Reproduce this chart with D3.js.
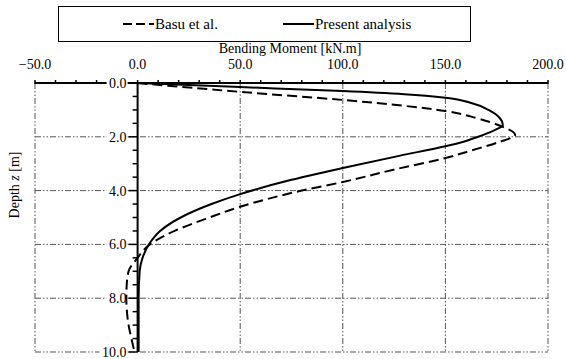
<!DOCTYPE html>
<html>
<head>
<meta charset="utf-8">
<script src="https://cdn.jsdelivr.net/npm/d3@7"></script>
<style>
  body { margin: 0; background: #fff; }
  svg text { font-family: "Times New Roman", "Liberation Serif", "DejaVu Serif", serif; }
</style>
</head>
<body>
<div id="chart"></div>
<script>
// depth [m] and bending moment [kN.m]
var presentDepth  = [0, 0.15, 0.3, 0.42, 0.55, 0.75, 1.0, 1.3, 1.56, 1.75, 2.0, 2.2, 2.35, 2.7, 3.16, 3.6, 4.13, 4.5, 5.0, 5.5, 6.0, 6.5, 7.0, 8.0, 9.0, 10.0],
    presentMoment = [0, 50, 100, 130, 150, 163, 171, 176.5, 178, 174, 166, 158, 150, 128, 100, 75, 50, 36, 21, 11, 5.5, 2.4, 1, 0.5, 0.5, 0.5];

var basuDepth  = [0, 0.33, 0.63, 0.85, 1.04, 1.3, 1.6, 1.93, 2.2, 2.5, 2.79, 3.2, 3.68, 4.0, 4.6, 5.0, 5.5, 6.0, 6.5, 7.0, 7.5, 8.0, 8.5, 9.0, 9.5, 10.0],
    basuMoment = [0, 50, 100, 130, 150, 165, 177, 184, 176, 163, 150, 126, 100, 80, 50, 35, 18, 6, 0, -4.4, -5.3, -5.5, -5.2, -4.4, -3, -1.5];

var momentTicks = [-50, 0, 50, 100, 150, 200],
    depthTicks = [0, 2, 4, 6, 8, 10];

var series = [
    {label: 'Basu et al.', depth: basuDepth, moment: basuMoment, dash: '10,5'},
    {label: 'Present analysis', depth: presentDepth, moment: presentMoment, dash: null}
];

var width = 566, height = 359,
    x = d3.scaleLinear().domain([-50, 200]).range([35, 548]),
    y = d3.scaleLinear().domain([0, 10]).range([83, 352]);

var svg = d3.select('#chart').append('svg')
    .attr('width', width)
    .attr('height', height);

var gridDash = '6,2,1.5,2,1.5,2';

// horizontal grid lines
svg.append('g').selectAll('line')
    .data(depthTicks.filter(function(d) { return d > 0; }))
    .enter().append('line')
    .attr('x1', x(-50)).attr('x2', x(200))
    .attr('y1', function(d) { return y(d); })
    .attr('y2', function(d) { return y(d); })
    .attr('stroke', '#555')
    .attr('stroke-width', 1)
    .attr('stroke-dasharray', gridDash);

// vertical grid lines
svg.append('g').selectAll('line')
    .data(momentTicks.filter(function(d) { return d !== 0; }))
    .enter().append('line')
    .attr('x1', function(d) { return x(d); })
    .attr('x2', function(d) { return x(d); })
    .attr('y1', y(0)).attr('y2', y(10))
    .attr('stroke', '#555')
    .attr('stroke-width', 1)
    .attr('stroke-dasharray', gridDash);

// top axis (moment)
var xAxis = svg.append('g').attr('transform', 'translate(0,' + y(0) + ')');
xAxis.append('line')
    .attr('x1', x(-50)).attr('x2', x(200))
    .attr('stroke', '#000').attr('stroke-width', 2);
xAxis.selectAll('.minor')
    .data(d3.range(-50, 201, 10))
    .enter().append('line')
    .attr('class', 'minor')
    .attr('x1', function(d) { return x(d); })
    .attr('x2', function(d) { return x(d); })
    .attr('y1', -3).attr('y2', 1)
    .attr('stroke', '#000').attr('stroke-width', 1.5);
xAxis.selectAll('text')
    .data(momentTicks)
    .enter().append('text')
    .attr('x', function(d) { return x(d); })
    .attr('y', -14)
    .attr('text-anchor', 'middle')
    .style('font-size', '14px')
    .text(function(d) { return d3.format('.1f')(d); });

svg.append('text')
    .attr('x', 290).attr('y', 53)
    .attr('text-anchor', 'middle')
    .style('font-size', '14px')
    .text('Bending  Moment  [kN.m]');

// depth axis at zero moment
var yAxis = svg.append('g').attr('transform', 'translate(' + x(0) + ',0)');
yAxis.append('line')
    .attr('y1', y(0)).attr('y2', y(10))
    .attr('stroke', '#000').attr('stroke-width', 2);
yAxis.selectAll('.minor')
    .data(d3.range(0, 10.01, 0.5))
    .enter().append('line')
    .attr('class', 'minor')
    .attr('y1', function(d) { return y(d); })
    .attr('y2', function(d) { return y(d); })
    .attr('x1', function(d) { return d % 2 === 0 ? -9 : -5; })
    .attr('x2', 0)
    .attr('stroke', '#000').attr('stroke-width', 1.5);
var yLabels = yAxis.selectAll('.lab')
    .data(depthTicks)
    .enter().append('g')
    .attr('class', 'lab')
    .attr('transform', function(d) { return 'translate(-10,' + y(d) + ')'; });
yLabels.append('rect')
    .attr('x', function(d) { return d >= 10 ? -28 : -21; })
    .attr('y', -7).attr('width', function(d) { return d >= 10 ? 28 : 21; }).attr('height', 14)
    .attr('fill', '#fff');
yLabels.append('text')
    .attr('x', -1)
    .attr('dy', '0.35em')
    .attr('text-anchor', 'end')
    .style('font-size', '14px')
    .text(function(d) { return d3.format('.1f')(d); });

var yTitle = svg.append('text')
    .attr('transform', 'translate(19,185) rotate(-90)')
    .attr('text-anchor', 'middle')
    .style('font-size', '14px');
yTitle.append('tspan').text('Depth ');
yTitle.append('tspan').style('font-style', 'italic').text('z');
yTitle.append('tspan').text(' [m]');

// curves
var line = d3.line()
    .x(function(d) { return x(d[1]); })
    .y(function(d) { return y(d[0]); })
    .curve(d3.curveMonotoneY);

svg.append('g').selectAll('path')
    .data(series)
    .enter().append('path')
    .attr('d', function(s) { return line(d3.zip(s.depth, s.moment)); })
    .attr('fill', 'none')
    .attr('stroke', '#000')
    .attr('stroke-width', 2)
    .attr('stroke-dasharray', function(s) { return s.dash; });

// legend
var legend = svg.append('g');
legend.append('rect')
    .attr('x', 58.5).attr('y', 6.5).attr('width', 412).attr('height', 35)
    .attr('fill', '#fff').attr('stroke', '#000').attr('stroke-width', 1);
var items = legend.selectAll('.item')
    .data(series)
    .enter().append('g')
    .attr('class', 'item')
    .attr('transform', function(d, i) { return 'translate(' + (123 + i * 160) + ',24)'; });
items.append('line')
    .attr('x1', 0).attr('x2', 31)
    .attr('stroke', '#000').attr('stroke-width', 2)
    .attr('stroke-dasharray', function(s) { return s.dash ? '9,4' : null; });
items.append('text')
    .attr('x', 32)
    .attr('dy', '0.35em')
    .style('font-size', '15px')
    .text(function(s) { return s.label; });
</script>
</body>
</html>
